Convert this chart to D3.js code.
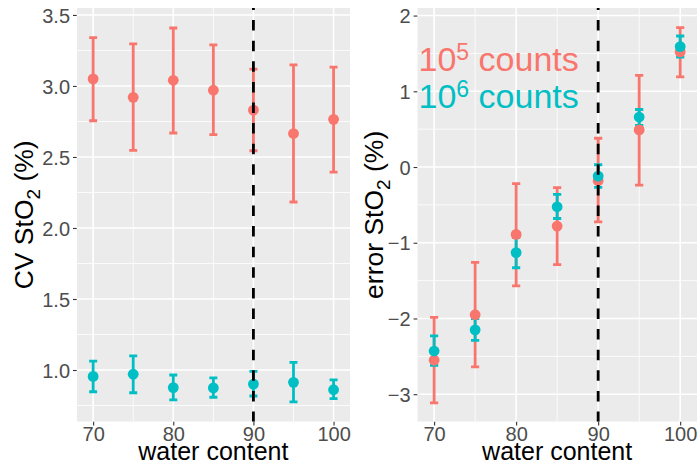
<!DOCTYPE html>
<html>
<head>
<meta charset="utf-8">
<script src="https://cdn.jsdelivr.net/npm/d3@7"></script>
<style>
  body { margin: 0; background: #fff; }
  text { font-family: "Liberation Sans", Arial, Helvetica, sans-serif; }
</style>
</head>
<body>
<div id="chart"></div>
<script>
var width = 698;
var height = 471;

// data
var water = [70, 75, 80, 85, 90, 95, 100];
var xTicks = [70, 80, 90, 100];
var xMinor = [75, 85, 95];
var cvTicks = [1.0, 1.5, 2.0, 2.5, 3.0, 3.5];
var errTicks = [-3, -2, -1, 0, 1, 2];
var seriesNames = ["10^5 counts", "10^6 counts"];
var colors = ["#F8766D", "#00BFC4"];

// CV StO2 (%)
var cv5   = [3.05, 2.92, 3.04, 2.97, 2.83, 2.665, 2.765];
var cv5Lo = [2.755, 2.547, 2.669, 2.657, 2.544, 2.183, 2.394];
var cv5Hi = [3.34, 3.296, 3.408, 3.289, 3.118, 3.148, 3.132];
var cv6   = [0.955, 0.97, 0.876, 0.874, 0.901, 0.913, 0.861];
var cv6Lo = [0.847, 0.84, 0.789, 0.808, 0.817, 0.775, 0.798];
var cv6Hi = [1.063, 1.099, 0.965, 0.945, 0.991, 1.054, 0.93];

// error StO2 (%)
var err5   = [-2.55, -1.95, -0.89, -0.78, -0.18, 0.49, 1.52];
var err5Lo = [-3.115, -2.64, -1.57, -1.29, -0.723, -0.24, 1.19];
var err5Hi = [-1.985, -1.26, -0.22, -0.273, 0.38, 1.21, 1.84];
var err6   = [-2.43, -2.15, -1.13, -0.525, -0.12, 0.66, 1.59];
var err6Lo = [-2.62, -2.29, -1.33, -0.68, -0.27, 0.55, 1.45];
var err6Hi = [-2.23, -2.0, -0.93, -0.36, 0.03, 0.76, 1.73];

var panelTop = 8;
var panelBottom = 421.7;

var svg = d3.select("#chart")
            .append("svg")
            .attr("width", width)
            .attr("height", height);

function zip(v, lo, hi) {
  return water.map(function(x, i) { return { x: x, y: v[i], lo: lo[i], hi: hi[i] }; });
}

function minorOf(ticks, domain) {
  var step = ticks[1] - ticks[0];
  var out = [];
  for (var v = ticks[0] - step / 2; v <= domain[1]; v += step) {
    if (v >= domain[0] && ticks.indexOf(v) < 0) out.push(v);
  }
  return out;
}

function drawPanel(p) {
  var x = d3.scaleLinear().domain([67.95, 102.05]).range([p.left, p.right]);
  var y = d3.scaleLinear().domain(p.yDomain).range([panelBottom, panelTop]);

  var clipId = "clip" + p.id;
  svg.append("clipPath").attr("id", clipId)
     .append("rect")
     .attr("x", p.left).attr("y", panelTop)
     .attr("width", p.right - p.left).attr("height", panelBottom - panelTop);

  var g = svg.append("g").attr("clip-path", "url(#" + clipId + ")");

  g.append("rect")
   .attr("x", p.left).attr("y", panelTop)
   .attr("width", p.right - p.left).attr("height", panelBottom - panelTop)
   .attr("fill", "#EBEBEB");

  // grid
  g.selectAll(".ymin").data(minorOf(p.yTicks, p.yDomain)).enter()
   .append("line")
   .attr("x1", p.left).attr("x2", p.right)
   .attr("y1", function(d) { return y(d); }).attr("y2", function(d) { return y(d); })
   .attr("stroke", "#fff").attr("stroke-width", 0.8);
  g.selectAll(".xmin").data(xMinor).enter()
   .append("line")
   .attr("y1", panelTop).attr("y2", panelBottom)
   .attr("x1", function(d) { return x(d); }).attr("x2", function(d) { return x(d); })
   .attr("stroke", "#fff").attr("stroke-width", 0.8);
  g.selectAll(".ymaj").data(p.yTicks).enter()
   .append("line")
   .attr("x1", p.left).attr("x2", p.right)
   .attr("y1", function(d) { return y(d); }).attr("y2", function(d) { return y(d); })
   .attr("stroke", "#fff").attr("stroke-width", 1.6);
  g.selectAll(".xmaj").data(xTicks).enter()
   .append("line")
   .attr("y1", panelTop).attr("y2", panelBottom)
   .attr("x1", function(d) { return x(d); }).attr("x2", function(d) { return x(d); })
   .attr("stroke", "#fff").attr("stroke-width", 1.6);

  // error bars, then points
  p.series.forEach(function(s, k) {
    var bars = g.append("g").attr("stroke", colors[k]).attr("stroke-width", 2.8).attr("fill", "none");
    bars.selectAll("path").data(s).enter()
        .append("path")
        .attr("d", function(d) {
          var xl = x(d.x - 0.5), xr = x(d.x + 0.5), xc = x(d.x);
          return "M" + xl + "," + y(d.hi) + "H" + xr +
                 "M" + xc + "," + y(d.hi) + "V" + y(d.lo) +
                 "M" + xl + "," + y(d.lo) + "H" + xr;
        });
  });
  p.series.forEach(function(s, k) {
    g.append("g").selectAll("circle").data(s).enter()
     .append("circle")
     .attr("cx", function(d) { return x(d.x); })
     .attr("cy", function(d) { return y(d.y); })
     .attr("r", 5.4)
     .attr("fill", colors[k]);
  });

  // dashed line at 90
  g.append("line")
   .attr("x1", x(90)).attr("x2", x(90))
   .attr("y1", panelTop).attr("y2", panelBottom)
   .attr("stroke", "#000").attr("stroke-width", 2.8)
   .attr("stroke-dasharray", "10.5 10.1")
   .attr("stroke-dashoffset", 8.5);

  // axes
  var xAxis = d3.axisBottom(x).tickValues(xTicks).tickSizeInner(3.7).tickSizeOuter(0).tickPadding(3);
  var ax = svg.append("g").attr("transform", "translate(0," + panelBottom + ")").call(xAxis);
  var yAxis = d3.axisLeft(y).tickValues(p.yTicks).tickFormat(p.fmt).tickSizeInner(3.7).tickSizeOuter(0).tickPadding(3);
  var ay = svg.append("g").attr("transform", "translate(" + p.left + ",0)").call(yAxis);
  [ax, ay].forEach(function(a) {
    a.select(".domain").remove();
    a.selectAll(".tick line").attr("stroke", "#333333").attr("stroke-width", 1.1);
    a.selectAll(".tick text")
     .attr("fill", "#4D4D4D")
     .style("font-size", "20px")
     .style("font-family", "'Liberation Sans', Arial, sans-serif");
  });
  ax.selectAll(".tick text").attr("dy", null).attr("y", 19.3);
  ay.selectAll(".tick text").attr("dy", "0.36em");

  // axis titles
  svg.append("text")
     .attr("x", (p.left + p.right) / 2).attr("y", 460)
     .attr("text-anchor", "middle")
     .style("font-size", "25px")
     .text("water content");

  var t = svg.append("text")
     .attr("transform", "translate(" + p.titleX + "," + ((panelTop + panelBottom) / 2) + ") rotate(-90)")
     .attr("text-anchor", "middle")
     .style("font-size", "26.5px");
  t.append("tspan").text(p.title + " StO");
  t.append("tspan").attr("dy", 6.5).style("font-size", "19px").text("2");
  t.append("tspan").attr("dy", -6.5).text(" (%)");

  return { x: x, y: y };
}

drawPanel({
  id: 1, left: 76.7, right: 350,
  yDomain: [0.636, 3.549], yTicks: cvTicks,
  fmt: d3.format(".1f"),
  series: [zip(cv5, cv5Lo, cv5Hi), zip(cv6, cv6Lo, cv6Hi)],
  title: "CV", titleX: 33
});

var right = drawPanel({
  id: 2, left: 417.3, right: 697,
  yDomain: [-3.363, 2.10], yTicks: errTicks,
  fmt: function(d) { return d < 0 ? "\u2212" + Math.abs(d) : String(d); },
  series: [zip(err5, err5Lo, err5Hi), zip(err6, err6Lo, err6Hi)],
  title: "error", titleX: 383
});

// legend text inside the right panel
seriesNames.forEach(function(name, k) {
  var parts = name.split(" ");
  var base = parts[0].split("^");
  var lt = svg.append("text")
     .attr("x", 418.5)
     .attr("y", 70.7 + k * 37)
     .attr("fill", colors[k])
     .style("font-size", "34px");
  lt.append("tspan").text(base[0]);
  lt.append("tspan").attr("dy", -11).style("font-size", "23px").text(base[1]);
  lt.append("tspan").attr("dy", 11).text(" " + parts[1]);
});
</script>
</body>
</html>
